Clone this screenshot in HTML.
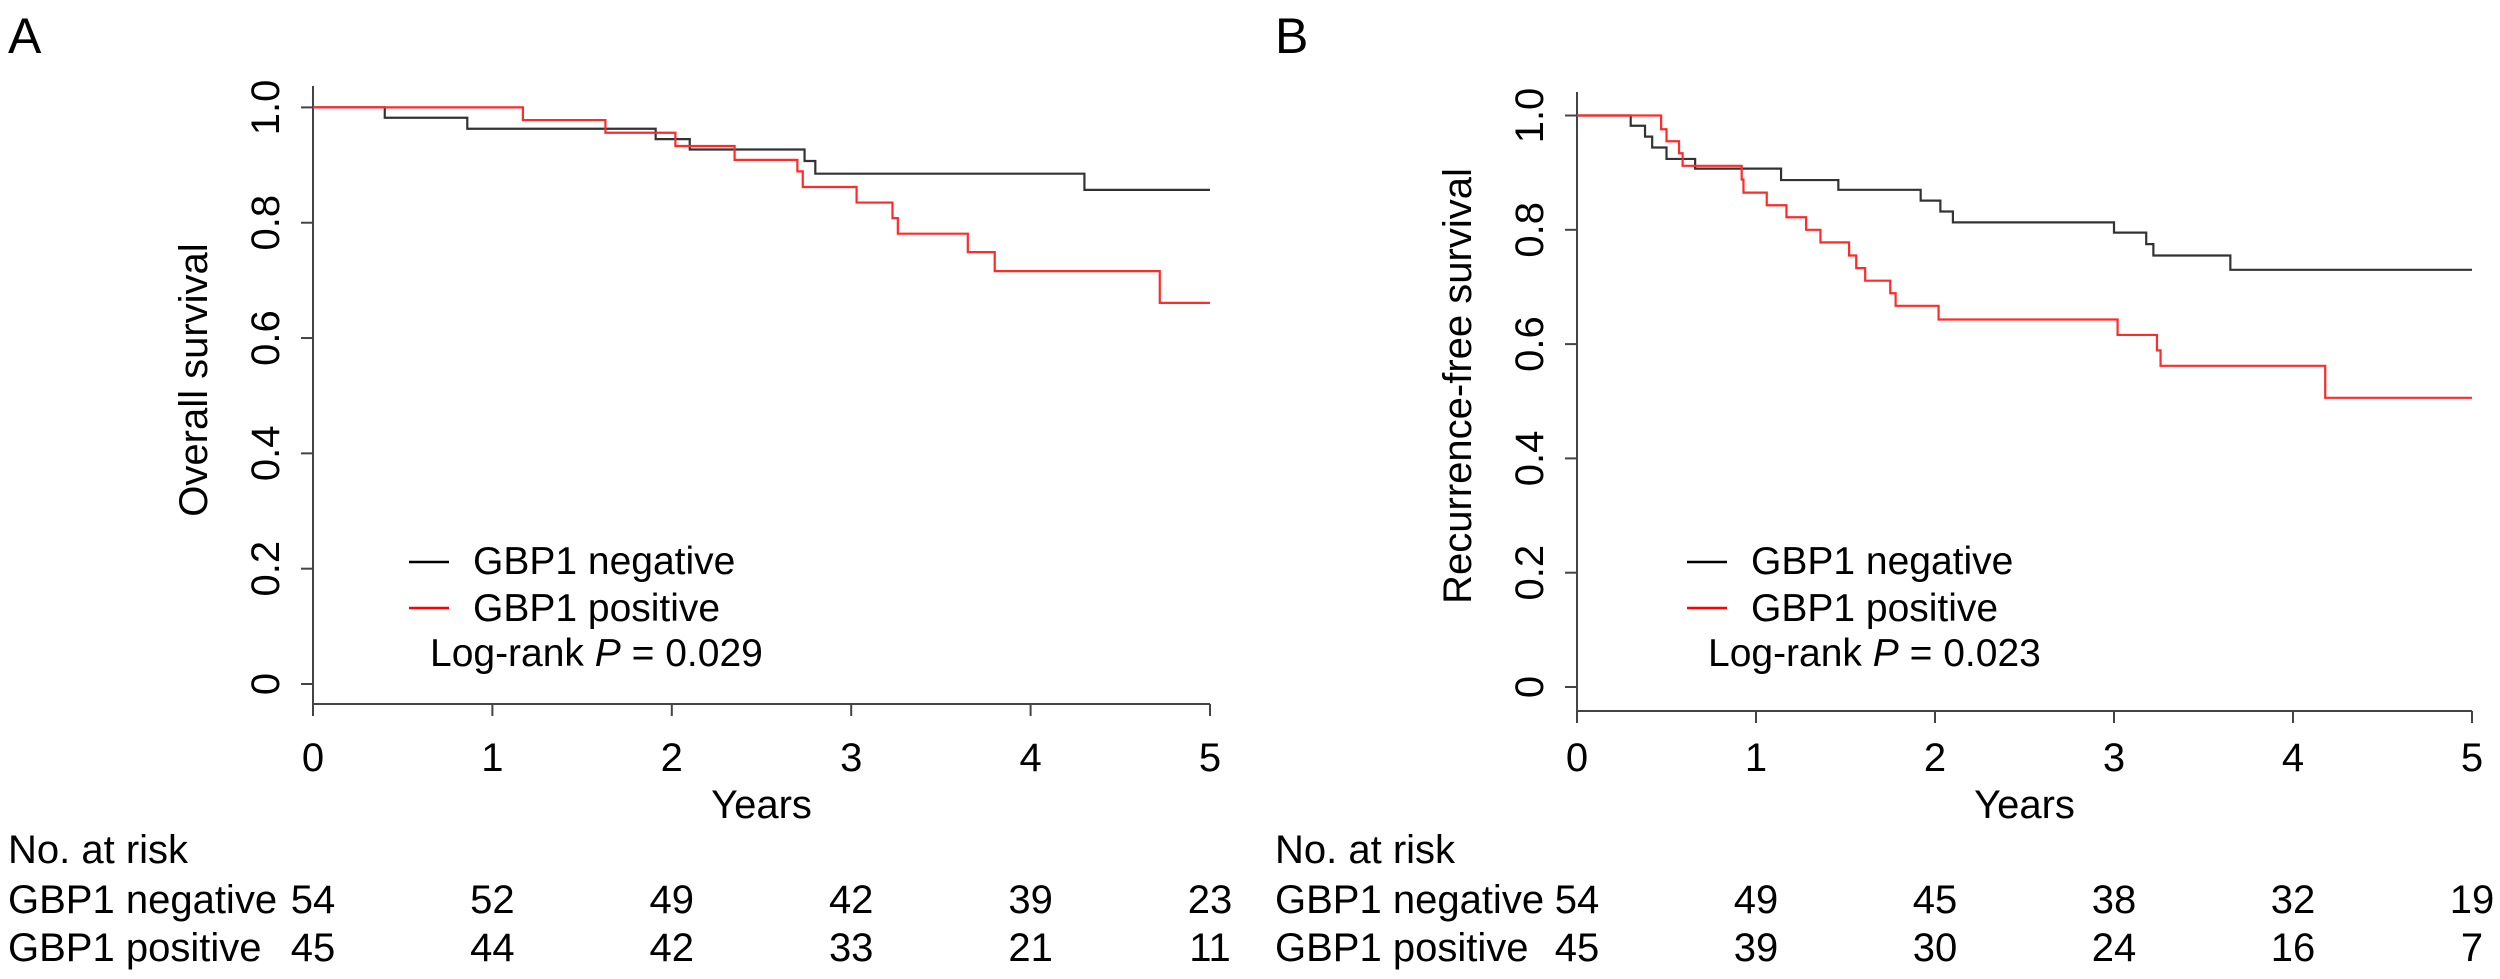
<!DOCTYPE html>
<html><head><meta charset="utf-8"><style>
body{margin:0;background:#fff;}
svg{display:block;font-family:"Liberation Sans",Arial,sans-serif;}
</style></head><body>
<svg id="fig" width="2500" height="979" viewBox="0 0 2500 979"></svg>
<script>
const xTicks=[0,1,2,3,4,5];
const yTicks=[0,0.2,0.4,0.6,0.8,1.0];
const yTickLabels=["0","0.2","0.4","0.6","0.8","1.0"];
const osNegTimes=[0.4,0.86,1.91,2.1,2.74,2.8,4.3];
const osNegVals=[0.982,0.963,0.945,0.927,0.907,0.885,0.857];
const osPosTimes=[1.17,1.63,2.02,2.35,2.7,2.73,3.03,3.23,3.26,3.65,3.8,4.72];
const osPosVals=[0.978,0.956,0.933,0.909,0.889,0.862,0.835,0.808,0.781,0.749,0.716,0.661];
const rfsNegTimes=[0.30,0.38,0.42,0.50,0.66,1.14,1.46,1.92,2.03,2.10,3.0,3.18,3.22,3.65];
const rfsNegVals=[0.982,0.963,0.944,0.924,0.907,0.887,0.870,0.851,0.832,0.813,0.795,0.775,0.755,0.73];
const rfsPosTimes=[0.47,0.50,0.57,0.59,0.92,0.93,1.06,1.17,1.28,1.36,1.52,1.56,1.61,1.75,1.78,2.02,3.02,3.24,3.26,4.18];
const rfsPosVals=[0.976,0.955,0.934,0.912,0.888,0.865,0.843,0.822,0.80,0.778,0.755,0.733,0.711,0.689,0.667,0.643,0.616,0.589,0.562,0.506];
const riskNegA=[54,52,49,42,39,23];
const riskPosA=[45,44,42,33,21,11];
const riskNegB=[54,49,45,38,32,19];
const riskPosB=[45,39,30,24,16,7];

const NS="http://www.w3.org/2000/svg";
const svg=document.getElementById('fig');
function mk(tag,attrs,parent,text){const e=document.createElementNS(NS,tag);for(const k in attrs)e.setAttribute(k,attrs[k]);if(text!==undefined)e.textContent=text;(parent||svg).appendChild(e);return e;}

function panel(cfg){
  const g=mk('g',{});
  
  
  const X=t=>cfg.x0+cfg.xs*t, Y=v=>cfg.y0-cfg.ys*v;
  const L=mk('text',{x:cfg.letterX,y:53,'font-size':50},g,cfg.letter);
  
  
  const ya=mk('line',{x1:cfg.x0,y1:cfg.axTop,x2:cfg.x0,y2:cfg.axBot,stroke:'#444','stroke-width':2},g);
  
  
  yTicks.forEach((v,i)=>{
    mk('line',{x1:cfg.x0-12,y1:Y(v),x2:cfg.x0,y2:Y(v),stroke:'#444','stroke-width':2},g);
    const t=mk('text',{x:0,y:0,'font-size':40,'text-anchor':'middle',transform:`translate(${cfg.x0-34},${Y(v)}) rotate(-90)`},g,yTickLabels[i]);
    
    
  });
  const yt=mk('text',{x:0,y:0,'font-size':40,'text-anchor':'middle',transform:`translate(${cfg.yTitleX},${cfg.yTitleY}) rotate(-90)`},g,cfg.yTitle);
  
  
  const xa=mk('line',{x1:X(0),y1:cfg.axBot,x2:X(5),y2:cfg.axBot,stroke:'#444','stroke-width':2},g);
  
  
  xTicks.forEach(t=>{
    mk('line',{x1:X(t),y1:cfg.axBot,x2:X(t),y2:cfg.axBot+12,stroke:'#444','stroke-width':2},g);
    const tx=mk('text',{x:X(t),y:771,'font-size':40,'text-anchor':'middle'},g,String(t));
    
    
  });
  const xt=mk('text',{x:(X(0)+X(5))/2,y:818,'font-size':40,'text-anchor':'middle'},g,'Years');
  
  
  function curve(times,vals,color,name){
    let d=`M${X(0)},${Y(1)}`;let prev=1;
    times.forEach((t,i)=>{d+=` L${X(t)},${Y(prev)} L${X(t)},${Y(vals[i])}`;prev=vals[i];});
    d+=` L${X(5)},${Y(prev)}`;
    const p=mk('path',{d:d,fill:'none',stroke:color,'stroke-width':2.2},g);
    
    
  }
  curve(cfg.negT,cfg.negV,'#333','gbp1-negative-curve');
  curve(cfg.posT,cfg.posV,'#ff2a2a','gbp1-positive-curve');
  const lx=cfg.x0+cfg.legOff;
  const l1=mk('g',{},g);
  
  
  mk('line',{x1:lx,y1:562,x2:lx+40,y2:562,stroke:'#000','stroke-width':2.5},l1);
  mk('text',{x:lx+64,y:574,'font-size':39},l1,'GBP1 negative');
  const l2=mk('g',{},g);
  
  
  mk('line',{x1:lx,y1:608,x2:lx+40,y2:608,stroke:'#f00','stroke-width':2.5},l2);
  mk('text',{x:lx+64,y:621,'font-size':39},l2,'GBP1 positive');
  const lr=mk('text',{x:lx+21,y:666,'font-size':39},g);
  
  
  mk('tspan',{},lr,'Log-rank ');
  mk('tspan',{'font-style':'italic'},lr,'P');
  mk('tspan',{},lr,' = '+cfg.p);
  const rt=mk('g',{},g);
  
  
  mk('text',{x:cfg.letterX,y:863,'font-size':40},rt,'No. at risk');
  mk('text',{x:cfg.letterX,y:913,'font-size':40},rt,'GBP1 negative');
  mk('text',{x:cfg.letterX,y:961,'font-size':40},rt,'GBP1 positive');
  xTicks.forEach((t,i)=>{
    mk('text',{x:X(t),y:913,'font-size':40,'text-anchor':'middle'},rt,String(cfg.rn[i]));
    mk('text',{x:X(t),y:961,'font-size':40,'text-anchor':'middle'},rt,String(cfg.rp[i]));
  });
}
panel({id:'os',letter:'A',letterX:8,x0:313,xs:179.4,y0:684,ys:576.6,axTop:86,axBot:704,legOff:96,
  yTitle:'Overall survival',yTitleX:207,yTitleY:380,negT:osNegTimes,negV:osNegVals,posT:osPosTimes,posV:osPosVals,p:'0.029',rn:riskNegA,rp:riskPosA});
panel({id:'rfs',letter:'B',letterX:1275,x0:1577,xs:179,y0:687,ys:571.5,axTop:92,axBot:711,legOff:110,
  yTitle:'Recurrence-free survival',yTitleX:1471,yTitleY:386,negT:rfsNegTimes,negV:rfsNegVals,posT:rfsPosTimes,posV:rfsPosVals,p:'0.023',rn:riskNegB,rp:riskPosB});
</script>
</body></html>
